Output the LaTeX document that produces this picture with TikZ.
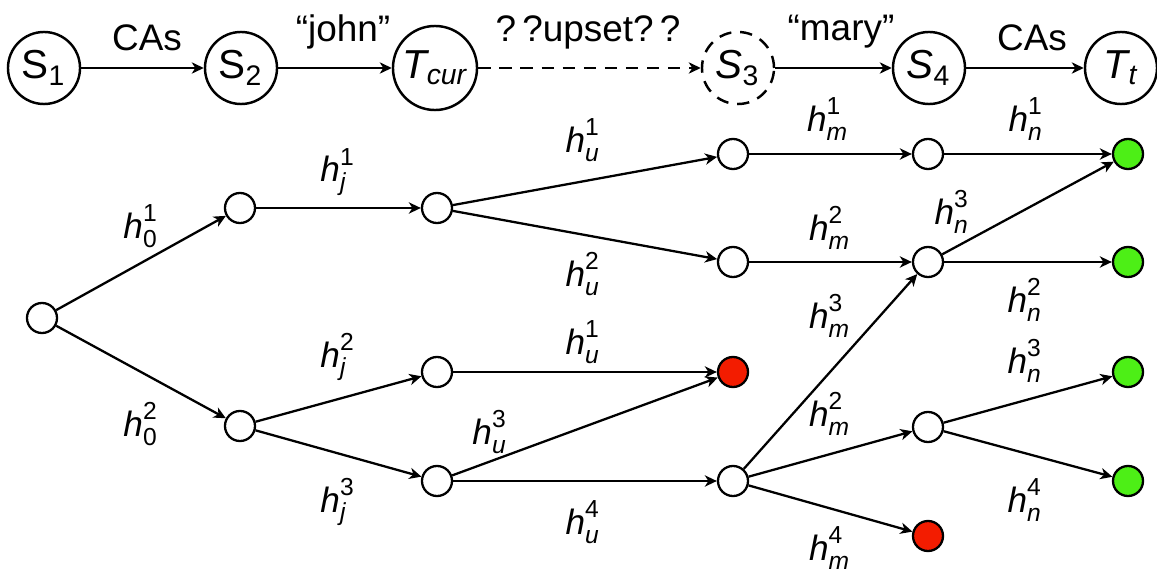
\documentclass[tikz,border=0pt]{standalone}
\usepackage{amsmath}
\usepackage{fontspec}
\setmainfont{Liberation Sans}
\usepackage{tikz}
\usetikzlibrary{arrows.meta}
\definecolor{deadcolor}{HTML}{F31C00}
\definecolor{goalcolor}{HTML}{4DEF16}
\newcommand{\hlab}[2]{$\textit{h}^{\textrm{#2}}_{\textit{#1}}$}

\begin{document}
\begin{tikzpicture}[x=0.01cm, y=-0.01cm,
    state/.style={circle, draw, line width=0.7pt, minimum size=0.72cm, inner sep=0pt, font=\fontsize{11.5}{13}\selectfont},
    hyp/.style={circle, draw, line width=0.65pt, fill=white, minimum size=0.3cm, inner sep=0pt},
    arrow/.style={-{Stealth[length=3.4pt, width=3.2pt, inset=1pt]}, line width=0.65pt},
    lbl/.style={inner sep=0pt, font=\fontsize{10.5}{12}\selectfont},
    hlbl/.style={inner sep=0pt, font=\fontsize{10}{12}\selectfont}
]
\useasboundingbox (0,0) rectangle (1157,570);

\node[state] (s1) at (44,68) {S$_{\textrm{1}}$};
\node[state] (s2) at (241,68) {S$_{\textrm{2}}$};
\node[state, minimum size=0.84cm] (tcur) at (435,68) {$\textit{T}_{\textit{cur}}$};
\node[state, dash pattern=on 3.5pt off 2.5pt] (s3) at (738,68) {$\textit{S}_{\textrm{3}}$};
\node[state] (s4) at (929,68) {$\textit{S}_{\textrm{4}}$};
\node[state] (tt) at (1121,68) {$\textit{T}_{\textit{t}}$};
\draw[arrow] (s1) -- (s2);
\draw[arrow] (s2) -- (tcur);
\draw[arrow, dash pattern=on 3.5pt off 2.5pt] (tcur) -- (s3);
\draw[arrow] (s3) -- (s4);
\draw[arrow] (s4) -- (tt);
\node[lbl] (cas1) at (147,38) {CAs};
\node[lbl] (john) at (343,32) {``john''};
\node[lbl] (upset) at (588,32) {?\,?upset?\,?};
\node[lbl] (mary) at (841,32) {``mary''};
\node[lbl] (cas2) at (1032,38) {CAs};

\node[hyp] (r) at (42,318) {};
\node[hyp] (a1) at (240,208) {};
\node[hyp] (a2) at (240,426) {};
\node[hyp] (b1) at (437,208) {};
\node[hyp] (b2) at (437,372) {};
\node[hyp] (b3) at (437,481) {};
\node[hyp] (c1) at (733,154) {};
\node[hyp] (c2) at (733,262) {};
\node[hyp, fill=deadcolor] (c3) at (733,372) {};
\node[hyp] (c4) at (733,481) {};
\node[hyp] (d1) at (928,154) {};
\node[hyp] (d2) at (928,262) {};
\node[hyp] (d3) at (928,427) {};
\node[hyp, fill=deadcolor] (d4) at (928,536) {};
\node[hyp, fill=goalcolor] (e1) at (1128,154) {};
\node[hyp, fill=goalcolor] (e2) at (1128,262) {};
\node[hyp, fill=goalcolor] (e3) at (1128,372) {};
\node[hyp, fill=goalcolor] (e4) at (1128,481) {};

\draw[arrow] (r) -- (a1);
\draw[arrow] (r) -- (a2);
\draw[arrow] (a1) -- (b1);
\draw[arrow] (a2) -- (b2);
\draw[arrow] (a2) -- (b3);
\draw[arrow] (b1) -- (c1);
\draw[arrow] (b1) -- (c2);
\draw[arrow] (b2) -- (c3);
\draw[arrow] (b3) -- (c3);
\draw[arrow] (b3) -- (c4);
\draw[arrow] (c1) -- (d1);
\draw[arrow] (c2) -- (d2);
\draw[arrow] (c4) -- (d2);
\draw[arrow] (c4) -- (d3);
\draw[arrow] (c4) -- (d4);
\draw[arrow] (d1) -- (e1);
\draw[arrow] (d2) -- (e1);
\draw[arrow] (d2) -- (e2);
\draw[arrow] (d3) -- (e3);
\draw[arrow] (d3) -- (e4);

\node[hlbl] (l01) at (141,226) {\hlab{\upshape 0}{1}};
\node[hlbl] (l02) at (141,424) {\hlab{\upshape 0}{2}};
\node[hlbl] (lj1) at (338,172) {\hlab{j}{1}};
\node[hlbl] (lj2) at (338,357) {\hlab{j}{2}};
\node[hlbl] (lj3) at (338,502) {\hlab{j}{3}};
\node[hlbl] (lu1) at (583,140) {\hlab{u}{1}};
\node[hlbl] (lu2) at (583,274) {\hlab{u}{2}};
\node[hlbl] (lu1b) at (583,342) {\hlab{u}{1}};
\node[hlbl] (lu3) at (490,432) {\hlab{u}{3}};
\node[hlbl] (lu4) at (583,522) {\hlab{u}{4}};
\node[hlbl] (lm1) at (828,119) {\hlab{m}{1}};
\node[hlbl] (lm2) at (830,228) {\hlab{m}{2}};
\node[hlbl] (lm3) at (830,316) {\hlab{m}{3}};
\node[hlbl] (lm2b) at (830,414) {\hlab{m}{2}};
\node[hlbl] (lm4) at (830,548) {\hlab{m}{4}};
\node[hlbl] (ln1) at (1026,119) {\hlab{n}{1}};
\node[hlbl] (ln3) at (952,212) {\hlab{n}{3}};
\node[hlbl] (ln2) at (1025,300) {\hlab{n}{2}};
\node[hlbl] (ln3b) at (1025,361) {\hlab{n}{3}};
\node[hlbl] (ln4) at (1025,500) {\hlab{n}{4}};
\end{tikzpicture}
\end{document}
